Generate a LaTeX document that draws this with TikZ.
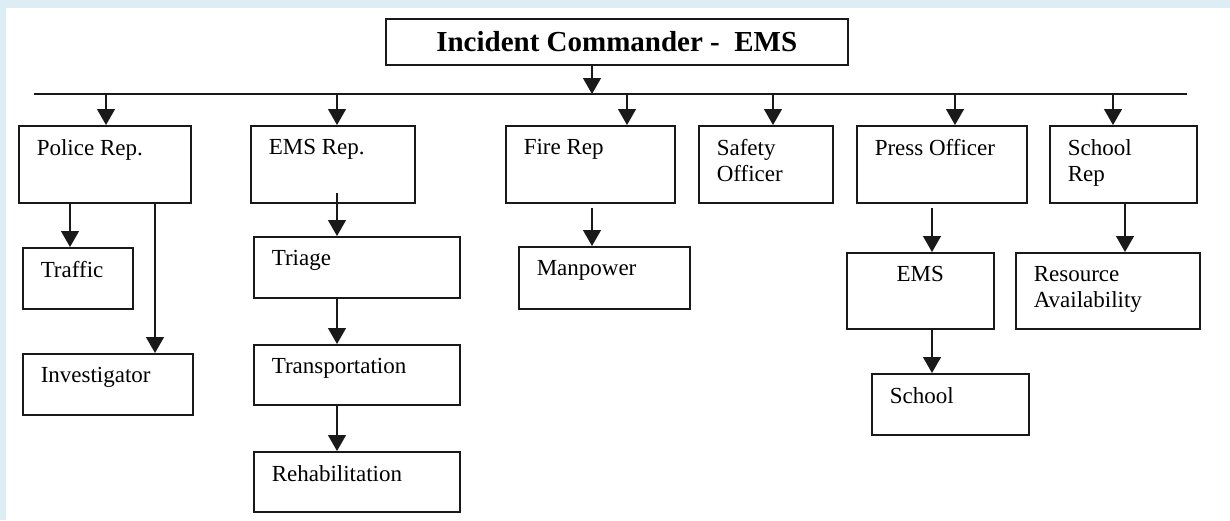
\documentclass[tikz,border=0pt]{standalone}
\usepackage{fontspec}
\setmainfont{Liberation Serif}
\usetikzlibrary{arrows.meta,calc}
\definecolor{pagerim}{HTML}{DCEDF4}
\tikzset{
  unit/.style={draw=black!90, line width=1.5pt, inner xsep=18pt, inner ysep=14pt,
    anchor=north west, font=\fontsize{23}{26}\selectfont},
  flow/.style={draw=black!90, line width=1.3pt, -{Triangle[width=18pt,length=16pt]}},
}
% box text, pinned to the top of a w x h box
\newcommand{\cell}[3]{\parbox[t][\dimexpr#2pt-28pt\relax][t]{\dimexpr#1pt-36pt\relax}{\raggedright #3}}

\begin{document}
\begin{tikzpicture}[x=1pt,y=-1pt]
	\useasboundingbox (0,0) rectangle (1230,520);
	\fill[white] (0,0) rectangle (1230,520);
	\fill[pagerim] (0,0) rectangle (1230,8);
	\fill[pagerim] (0,0) rectangle (6,520);

	\node[draw=black!90, line width=1.5pt, inner sep=0pt, anchor=north west,
		minimum width=462pt, minimum height=46pt,
		font=\bfseries\fontsize{29}{32}\selectfont] (cmd) at (385,18) {Incident Commander -\ \ EMS};

	% sections
	\node[unit] (police) at (18,125) {\cell{172}{77}{Police Rep.}};
	\node[unit] (emsrep) at (250,125) {\cell{164}{77}{EMS Rep.}};
	\node[unit] (fire) at (505,125) {\cell{169}{77}{Fire Rep}};
	\node[unit] (safety) at (698,125) {\cell{134}{77}{Safety\\Officer}};
	\node[unit] (press) at (856,125) {\cell{170}{77}{Press Officer}};
	\node[unit] (schoolrep) at (1049,125) {\cell{147}{77}{School\\Rep}};

	% units below
	\node[unit] (traffic) at (22,247) {\cell{110}{61}{Traffic}};
	\node[unit] (invest) at (22,353) {\cell{170}{61}{Investigator}};
	\node[unit] (triage) at (253,236) {\cell{206}{61}{Triage}};
	\node[unit] (transport) at (253,344) {\cell{206}{60}{Transportation}};
	\node[unit] (rehab) at (253,451) {\cell{206}{60}{Rehabilitation}};
	\node[unit] (manpower) at (518,246) {\cell{171}{62}{Manpower}};
	\node[unit] (emsp) at (846,252) {\cell{147}{76}{\centering EMS}};
	\node[unit] (school) at (871,373) {\cell{157}{61}{School}};
	\node[unit] (resource) at (1015,252) {\cell{184}{76}{Resource\\Availability}};

	\coordinate (busW) at (34,94);
	\coordinate (busE) at (1187,94);
	\draw[black!90, line width=1.5pt] (busW) -- (busE);
	\draw[flow] (cmd.south -| 592,0) -- (busW -| 592,0);
	\foreach \n/\x in {police/106,emsrep/337,fire/627,safety/773,press/955,schoolrep/1113}
		\draw[flow] (busW -| \x,0) -- (\n.north -| \x,0);

	\draw[flow] (police.south -| 70,0) -- (traffic.north -| 70,0);
	\draw[flow] (police.south -| 155,0) -- (invest.north -| 155,0);
	\draw[flow] ($(emsrep.south -| 337,0)+(0,-11)$) -- (triage.north -| 337,0);
	\draw[flow] (triage.south -| 337,0) -- (transport.north -| 337,0);
	\draw[flow] (transport.south -| 337,0) -- (rehab.north -| 337,0);
	\draw[flow] ($(fire.south -| 592,0)+(0,4)$) -- (manpower.north -| 592,0);
	\draw[flow] ($(press.south -| 932,0)+(0,4)$) -- (emsp.north -| 932,0);
	\draw[flow] (emsp.south -| 932,0) -- (school.north -| 932,0);
	\draw[flow] (schoolrep.south -| 1125,0) -- (resource.north -| 1125,0);
\end{tikzpicture}
\end{document}
